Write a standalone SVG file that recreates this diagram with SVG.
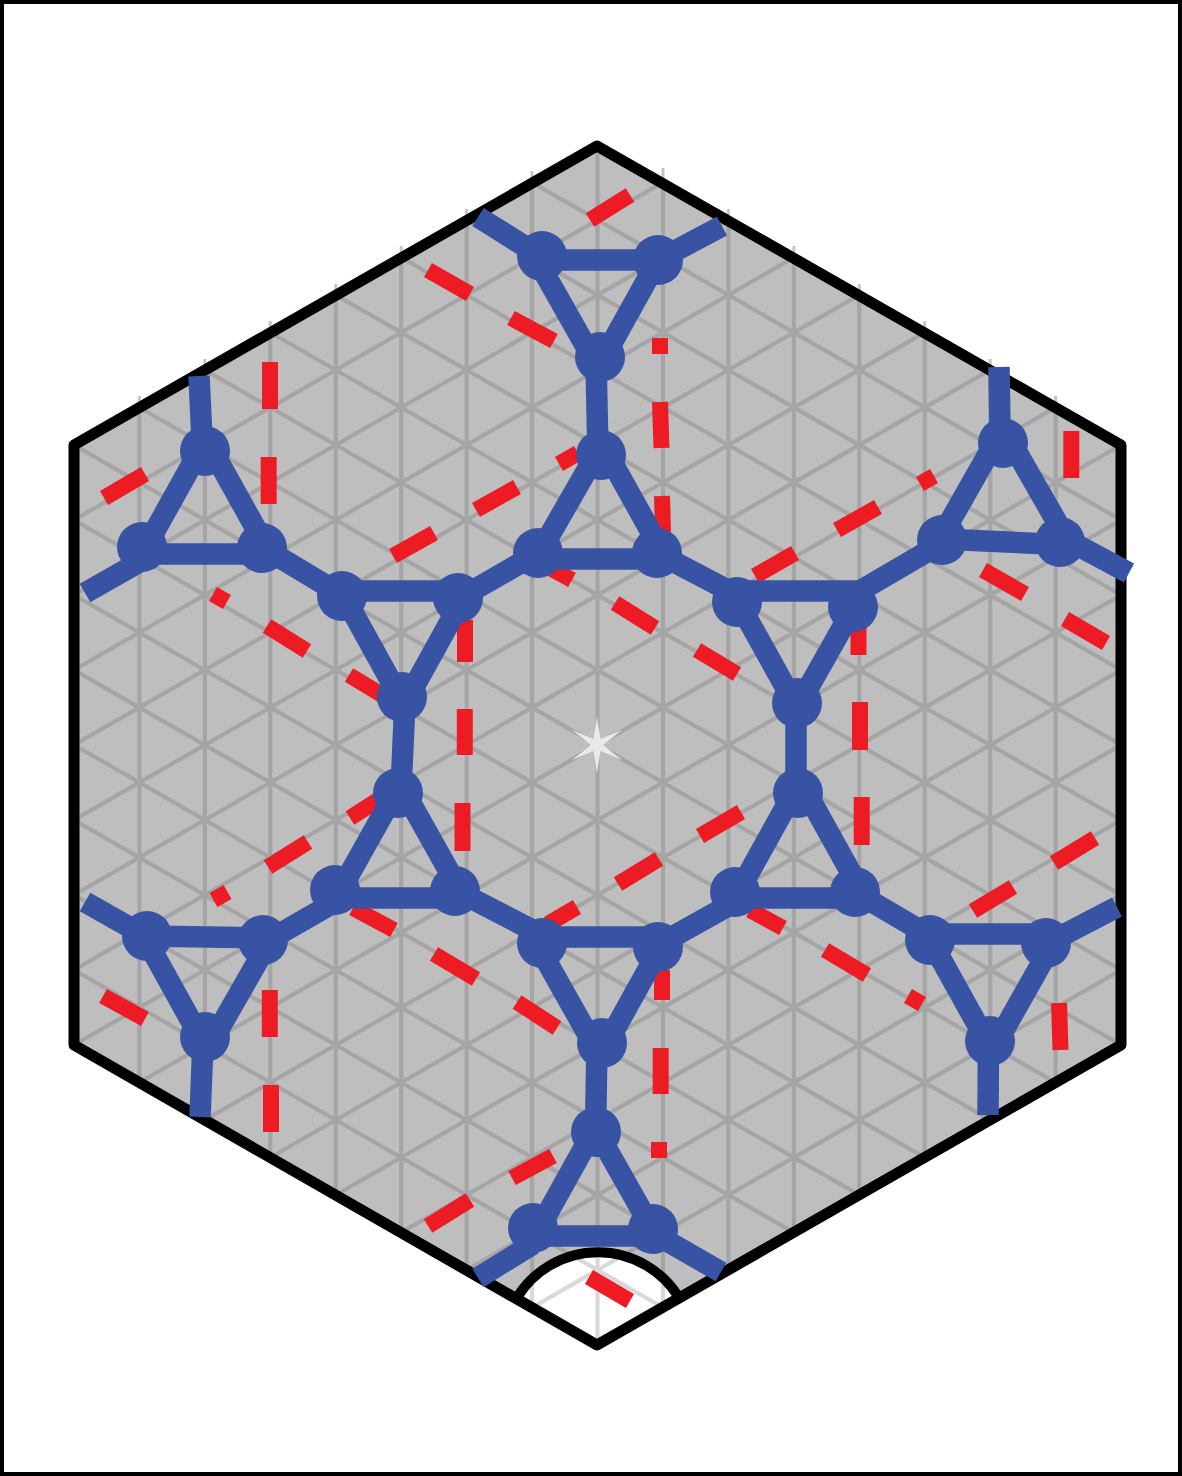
<svg xmlns="http://www.w3.org/2000/svg" width="1182" height="1476" viewBox="0 0 1182 1476">
<style>
.g line{stroke-width:4.2}
.red line{stroke:#ed1c24;stroke-width:16;fill:none}
.blue{stroke:#3953a4;stroke-width:21.5;fill:none;stroke-linejoin:round}
.node circle{fill:#3953a4}
.tick line{stroke:#c6c6c6;stroke-width:3}
</style>
<defs>
<clipPath id="hexc"><polygon points="597,146 1121,445 1121,1045 597,1345 74,1045 74,445"/></clipPath>
<clipPath id="cutc"><path d="M597,1345L518,1296A95 95 0 0 1 678,1296Z"/></clipPath>
<g id="grid" class="g">
<line x1="74" y1="-155" x2="1121" y2="445"/><line x1="74" y1="-80" x2="1121" y2="520"/><line x1="74" y1="-5" x2="1121" y2="595"/><line x1="74" y1="70" x2="1121" y2="670"/><line x1="74" y1="145" x2="1121" y2="745"/><line x1="74" y1="220" x2="1121" y2="820"/><line x1="74" y1="295" x2="1121" y2="895"/><line x1="74" y1="370" x2="1121" y2="970"/><line x1="74" y1="445" x2="1121" y2="1045"/><line x1="74" y1="520" x2="1121" y2="1120"/><line x1="74" y1="595" x2="1121" y2="1195"/><line x1="74" y1="670" x2="1121" y2="1270"/><line x1="74" y1="745" x2="1121" y2="1345"/><line x1="74" y1="820" x2="1121" y2="1420"/><line x1="74" y1="895" x2="1121" y2="1495"/><line x1="74" y1="970" x2="1121" y2="1570"/><line x1="74" y1="1045" x2="1121" y2="1645"/>
<line x1="74" y1="445" x2="1121" y2="-155"/><line x1="74" y1="520" x2="1121" y2="-80"/><line x1="74" y1="595" x2="1121" y2="-5"/><line x1="74" y1="670" x2="1121" y2="70"/><line x1="74" y1="745" x2="1121" y2="145"/><line x1="74" y1="820" x2="1121" y2="220"/><line x1="74" y1="895" x2="1121" y2="295"/><line x1="74" y1="970" x2="1121" y2="370"/><line x1="74" y1="1045" x2="1121" y2="445"/><line x1="74" y1="1120" x2="1121" y2="520"/><line x1="74" y1="1195" x2="1121" y2="595"/><line x1="74" y1="1270" x2="1121" y2="670"/><line x1="74" y1="1345" x2="1121" y2="745"/><line x1="74" y1="1420" x2="1121" y2="820"/><line x1="74" y1="1495" x2="1121" y2="895"/><line x1="74" y1="1570" x2="1121" y2="970"/><line x1="74" y1="1645" x2="1121" y2="1045"/>
<line x1="139.4" y1="100" x2="139.4" y2="1400"/><line x1="204.9" y1="100" x2="204.9" y2="1400"/><line x1="270.3" y1="100" x2="270.3" y2="1400"/><line x1="335.8" y1="100" x2="335.8" y2="1400"/><line x1="401.2" y1="100" x2="401.2" y2="1400"/><line x1="466.6" y1="100" x2="466.6" y2="1400"/><line x1="532" y1="100" x2="532" y2="1400"/><line x1="597.5" y1="100" x2="597.5" y2="1400"/><line x1="663" y1="100" x2="663" y2="1400"/><line x1="728.4" y1="100" x2="728.4" y2="1400"/><line x1="793.9" y1="100" x2="793.9" y2="1400"/><line x1="859.3" y1="100" x2="859.3" y2="1400"/><line x1="924.8" y1="100" x2="924.8" y2="1400"/><line x1="990.2" y1="100" x2="990.2" y2="1400"/><line x1="1055.6" y1="100" x2="1055.6" y2="1400"/>
</g>
</defs>
<rect x="2" y="2" width="1178" height="1472" fill="#fff" stroke="#000" stroke-width="4"/>
<g id="lattice">
<g class="tick">
<line x1="139.4" y1="396" x2="139.4" y2="412"/><line x1="204.9" y1="359" x2="204.9" y2="375"/><line x1="270.3" y1="321" x2="270.3" y2="337"/><line x1="335.8" y1="284" x2="335.8" y2="300"/><line x1="401.2" y1="246" x2="401.2" y2="262"/><line x1="466.6" y1="209" x2="466.6" y2="225"/><line x1="532" y1="171" x2="532" y2="187"/><line x1="663" y1="168" x2="663" y2="187"/><line x1="728.4" y1="209" x2="728.4" y2="225"/><line x1="793.9" y1="246" x2="793.9" y2="262"/><line x1="859.3" y1="284" x2="859.3" y2="300"/><line x1="924.8" y1="321" x2="924.8" y2="337"/><line x1="990.2" y1="359" x2="990.2" y2="375"/><line x1="1055.6" y1="396" x2="1055.6" y2="412"/>
</g>
<polygon points="597,146 1121,445 1121,1045 597,1345 74,1045 74,445" fill="#bebebe"/>
<use href="#grid" clip-path="url(#hexc)" stroke="#a5a5a5"/>
<path d="M597,1345L518,1296A95 95 0 0 1 678,1296Z" fill="#fff"/>
<use href="#grid" clip-path="url(#cutc)" stroke="#d9d9d9"/>
<polygon id="star" points="597,717 600.5,739 622,730 603,745 622,760 600.5,751 597,773 593.5,751 572,760 591,745 572,730 593.5,739" fill="#e8e9ea"/>
<path d="M518,1296A95 95 0 0 1 678,1296" fill="none" stroke="#000" stroke-width="10"/>
<polygon points="597,146 1121,445 1121,1045 597,1345 74,1045 74,445" fill="none" stroke="#000" stroke-width="11" stroke-linejoin="round"/>
</g>
<g id="dashes" class="red">
<line x1="590" y1="220" x2="630" y2="195"/><line x1="428" y1="270" x2="470" y2="294"/><line x1="511" y1="318" x2="554" y2="341"/>
<line x1="660" y1="338" x2="660" y2="354"/><line x1="660" y1="402" x2="661.5" y2="448"/><line x1="662" y1="496" x2="663" y2="532"/>
<line x1="578" y1="453" x2="559" y2="464"/><line x1="517" y1="487" x2="476" y2="510"/><line x1="434" y1="533" x2="393" y2="556"/>
<line x1="270" y1="362" x2="270" y2="409"/><line x1="268.7" y1="457" x2="268.7" y2="504"/><line x1="145" y1="474" x2="104" y2="498"/>
<line x1="213" y1="594" x2="227" y2="602"/><line x1="267" y1="626" x2="307" y2="651"/><line x1="349" y1="675" x2="382" y2="695"/>
<line x1="465" y1="620" x2="465" y2="662"/><line x1="464.8" y1="709" x2="464.8" y2="755"/><line x1="462.5" y1="803" x2="462.5" y2="851"/>
<line x1="378" y1="800" x2="350" y2="818"/><line x1="308" y1="842" x2="268" y2="867"/><line x1="227.5" y1="892" x2="213.5" y2="900"/>
<line x1="353" y1="908" x2="394" y2="930"/><line x1="434" y1="954" x2="476" y2="979"/><line x1="517" y1="1002" x2="557" y2="1028"/>
<line x1="103" y1="996" x2="145" y2="1019"/><line x1="269.8" y1="990" x2="269.8" y2="1037"/><line x1="271" y1="1085" x2="271" y2="1132"/>
<line x1="662" y1="970" x2="662" y2="1000"/><line x1="660.7" y1="1048" x2="660.7" y2="1094"/><line x1="659" y1="1142" x2="659" y2="1158"/>
<line x1="553" y1="1156" x2="512" y2="1178"/><line x1="470" y1="1200" x2="428" y2="1226"/><line x1="589" y1="1277" x2="630" y2="1301"/>
<line x1="548" y1="924" x2="577" y2="907"/><line x1="618" y1="884" x2="659" y2="859"/><line x1="700" y1="836" x2="741" y2="812"/>
<line x1="552" y1="569" x2="572" y2="580"/><line x1="615" y1="603" x2="655" y2="628"/><line x1="697" y1="650" x2="737" y2="674"/>
<line x1="755" y1="576" x2="795" y2="553"/><line x1="837" y1="530" x2="878" y2="507"/><line x1="920" y1="484" x2="934" y2="476"/>
<line x1="1071.3" y1="431" x2="1071.3" y2="478"/><line x1="983" y1="570" x2="1025" y2="594"/><line x1="1065" y1="619" x2="1106" y2="643"/>
<line x1="858.5" y1="625" x2="858.5" y2="655"/><line x1="860" y1="702" x2="860" y2="750"/><line x1="861.7" y1="797" x2="861.7" y2="845"/>
<line x1="750" y1="910" x2="783" y2="928"/><line x1="825" y1="950" x2="867" y2="975"/><line x1="908" y1="996" x2="922" y2="1004"/>
<line x1="973" y1="911" x2="1013" y2="887"/><line x1="1054" y1="863" x2="1095" y2="838"/><line x1="1059" y1="1003" x2="1060.5" y2="1050"/>
</g>
<g id="connectors" class="blue">
<line x1="478" y1="217" x2="542" y2="257"/><line x1="722" y1="226" x2="658" y2="260"/><line x1="596" y1="360" x2="598" y2="455"/>
<line x1="538" y1="553" x2="458" y2="599"/><line x1="657" y1="553" x2="737" y2="595"/><line x1="405" y1="700" x2="401" y2="790"/>
<line x1="455" y1="890" x2="542" y2="935"/><line x1="658" y1="945" x2="735" y2="902"/><line x1="597" y1="1044" x2="595.5" y2="1132"/>
<line x1="478" y1="1278" x2="533" y2="1244"/><line x1="721" y1="1272" x2="653" y2="1233"/><line x1="796" y1="705" x2="796" y2="795"/>
<line x1="855" y1="892" x2="930" y2="936"/><line x1="1117" y1="907" x2="1046" y2="944"/><line x1="988" y1="1115" x2="988.5" y2="1040"/>
<line x1="999" y1="367" x2="1000" y2="430"/><line x1="1129" y1="573" x2="1060" y2="536"/><line x1="942" y1="543" x2="853" y2="595"/>
<line x1="199" y1="376" x2="202" y2="440"/><line x1="85" y1="593" x2="143" y2="560"/><line x1="262" y1="547" x2="342" y2="595"/>
<line x1="85" y1="902" x2="147" y2="937"/><line x1="200" y1="1117" x2="203" y2="1040"/><line x1="262" y1="944" x2="335" y2="902"/>
</g>
<g id="t1" class="node"><polygon class="blue" points="537,260 658,260 598,368"/><circle cx="542" cy="256" r="25"/><circle cx="658" cy="260" r="25"/><circle cx="600" cy="357" r="25"/></g>
<g id="t2" class="node"><polygon class="blue" points="602,444 536,559 666,559"/><circle cx="601" cy="455" r="25"/><circle cx="538" cy="553" r="25"/><circle cx="657" cy="553" r="25"/></g>
<g id="t3" class="node"><polygon class="blue" points="341,591 467,591 404,705"/><circle cx="342" cy="596" r="25"/><circle cx="458" cy="598" r="25"/><circle cx="402" cy="697" r="25"/></g>
<g id="t4" class="node"><polygon class="blue" points="400,784 336,898 464,898"/><circle cx="398" cy="793" r="25"/><circle cx="335" cy="890" r="25"/><circle cx="455" cy="891" r="25"/></g>
<g id="t5" class="node"><polygon class="blue" points="533,937 666,937 600,1056"/><circle cx="542" cy="943" r="25"/><circle cx="658" cy="947" r="25"/><circle cx="602" cy="1043" r="25"/></g>
<g id="t6" class="node"><polygon class="blue" points="595,1128 535,1236 656,1236"/><circle cx="596" cy="1132" r="25"/><circle cx="533" cy="1228" r="25"/><circle cx="653" cy="1229" r="25"/></g>
<g id="t7" class="node"><polygon class="blue" points="732,591 863,591 797,708"/><circle cx="737" cy="602" r="25"/><circle cx="853" cy="607" r="25"/><circle cx="797" cy="703" r="25"/></g>
<g id="t8" class="node"><polygon class="blue" points="800,781 735,898 865,898"/><circle cx="798" cy="793" r="25"/><circle cx="735" cy="892" r="25"/><circle cx="855" cy="892" r="25"/></g>
<g id="t9" class="node"><polygon class="blue" points="927,934 1058,934 992,1051"/><circle cx="930" cy="940" r="25"/><circle cx="1046" cy="943" r="25"/><circle cx="990" cy="1041" r="25"/></g>
<g id="t10" class="node"><polygon class="blue" points="1003,428 940,539 1070,545"/><circle cx="1003" cy="443" r="25"/><circle cx="942" cy="540" r="25"/><circle cx="1060" cy="542" r="25"/></g>
<g id="t11" class="node"><polygon class="blue" points="206,439 142,554 270,554"/><circle cx="205" cy="451" r="25"/><circle cx="142" cy="547" r="25"/><circle cx="262" cy="548" r="25"/></g>
<g id="t12" class="node"><polygon class="blue" points="144,936 271,938 207,1050"/><circle cx="147" cy="936" r="25"/><circle cx="263" cy="940" r="25"/><circle cx="205" cy="1037" r="25"/></g>
</svg>
